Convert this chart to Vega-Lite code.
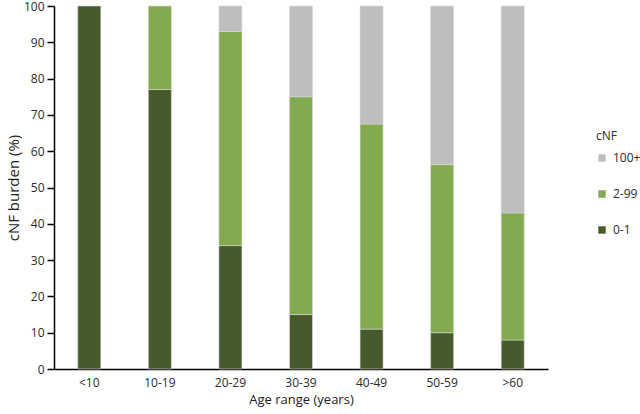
{
  "$schema": "https://vega.github.io/schema/vega-lite/v6.json",
  "autosize": "none",
  "width": 494,
  "height": 363,
  "padding": {"left": 54, "top": 6, "right": 92, "bottom": 45},
  "background": "white",
  "config": {
    "font": "Open Sans",
    "view": {"stroke": null}
  },
  "data": {
    "values": [
      {"age": "<10", "cNF": "0-1", "value": 100},
      {"age": "10-19", "cNF": "0-1", "value": 77},
      {"age": "10-19", "cNF": "2-99", "value": 23},
      {"age": "20-29", "cNF": "0-1", "value": 34},
      {"age": "20-29", "cNF": "2-99", "value": 59},
      {"age": "20-29", "cNF": "100+", "value": 7},
      {"age": "30-39", "cNF": "0-1", "value": 15},
      {"age": "30-39", "cNF": "2-99", "value": 60},
      {"age": "30-39", "cNF": "100+", "value": 25},
      {"age": "40-49", "cNF": "0-1", "value": 11},
      {"age": "40-49", "cNF": "2-99", "value": 56.5},
      {"age": "40-49", "cNF": "100+", "value": 32.5},
      {"age": "50-59", "cNF": "0-1", "value": 10},
      {"age": "50-59", "cNF": "2-99", "value": 46.3},
      {"age": "50-59", "cNF": "100+", "value": 43.7},
      {"age": ">60", "cNF": "0-1", "value": 8},
      {"age": ">60", "cNF": "2-99", "value": 35},
      {"age": ">60", "cNF": "100+", "value": 57}
    ]
  },
  "transform": [
    {"calculate": "datum.cNF === '0-1' ? 0 : (datum.cNF === '2-99' ? 1 : 2)", "as": "ord"}
  ],
  "mark": {"type": "bar", "stroke": "#d8d8d8", "strokeWidth": 0.6},
  "encoding": {
    "x": {
      "field": "age",
      "type": "nominal",
      "sort": ["<10", "10-19", "20-29", "30-39", "40-49", "50-59", ">60"],
      "scale": {"paddingInner": 0.674, "paddingOuter": 0.337},
      "axis": {
        "title": "Age range (years)",
        "labelAngle": 0,
        "ticks": false,
        "domainColor": "#000000",
        "domainWidth": 1.5,
        "labelFontSize": 12,
        "labelColor": "#2a2a2a",
        "labelPadding": 8,
        "titleFontSize": 13,
        "titleFontWeight": "normal",
        "titleColor": "#222222",
        "titlePadding": 5
      }
    },
    "y": {
      "field": "value",
      "type": "quantitative",
      "stack": "zero",
      "scale": {"domain": [0, 100], "nice": false},
      "axis": {
        "title": "cNF burden (%)",
        "values": [0, 10, 20, 30, 40, 50, 60, 70, 80, 90, 100],
        "grid": false,
        "domainColor": "#000000",
        "domainWidth": 1.5,
        "tickColor": "#000000",
        "tickWidth": 1.5,
        "tickSize": 7,
        "labelFontSize": 12,
        "labelColor": "#2a2a2a",
        "labelPadding": 3,
        "titleFontSize": 15,
        "titleFontWeight": "normal",
        "titleColor": "#222222",
        "titlePadding": 2
      }
    },
    "color": {
      "field": "cNF",
      "type": "nominal",
      "scale": {
        "domain": ["100+", "2-99", "0-1"],
        "range": ["#bebebe", "#84aa4f", "#465a2e"]
      },
      "legend": {
        "title": "cNF",
        "orient": "none",
        "legendX": 542,
        "legendY": 125,
        "symbolType": "square",
        "symbolSize": 55,
        "symbolStrokeWidth": 0,
        "rowPadding": 24,
        "labelFontSize": 12,
        "labelColor": "#2a2a2a",
        "labelOffset": 5,
        "titleFontSize": 12,
        "titleFontWeight": "normal",
        "titleColor": "#2a2a2a",
        "titlePadding": 9
      }
    },
    "order": {"field": "ord", "type": "quantitative"}
  }
}
